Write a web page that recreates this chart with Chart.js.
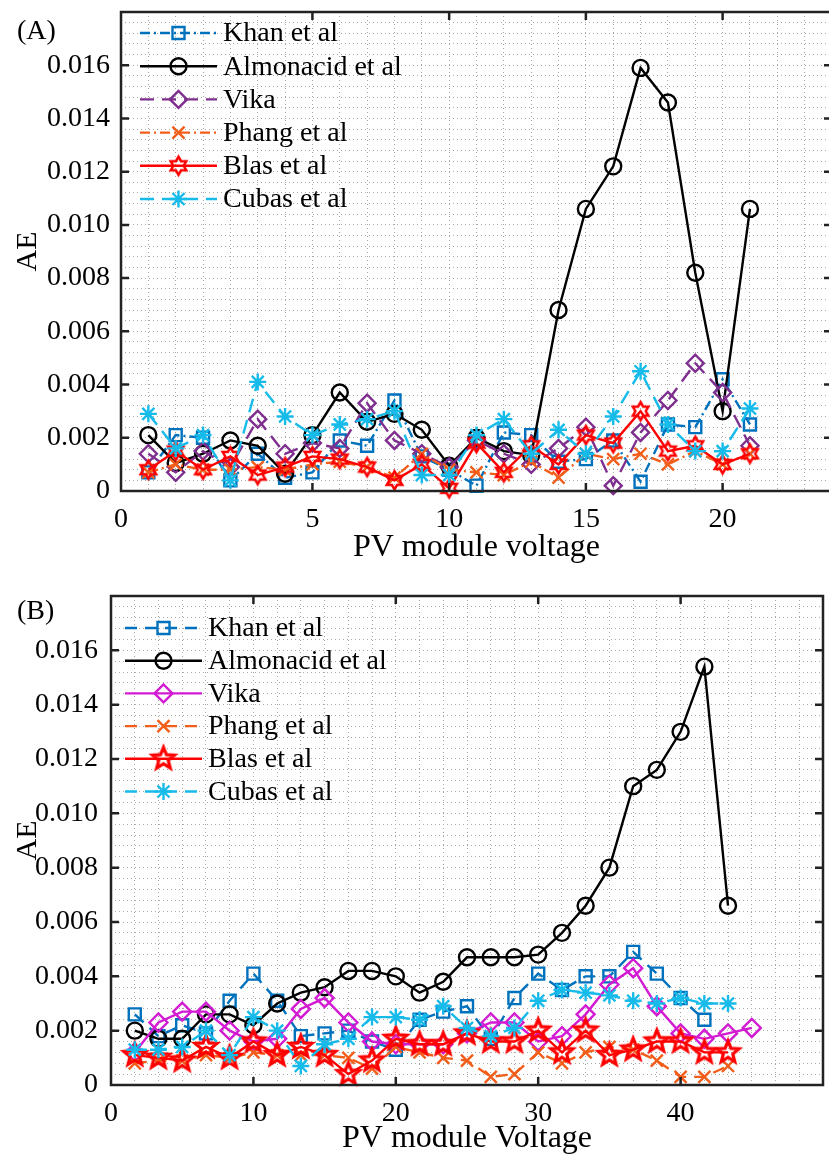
<!DOCTYPE html>
<html>
<head>
<meta charset="utf-8">
<title>AE vs PV module voltage</title>
<script src="https://cdn.jsdelivr.net/npm/chart.js@4.4.1/dist/chart.umd.min.js"></script>
<style>
  html, body { margin: 0; padding: 0; background: #fff; }
  #wrap { position: relative; width: 829px; height: 1163px; overflow: hidden; }
  .panel { position: absolute; left: 0; }
  #panelA { top: 0; width: 832px; height: 565px; }
  #panelB { top: 565px; width: 829px; height: 598px; }
</style>
</head>
<body>
<div id="wrap">
  <div class="panel" id="panelA"><canvas id="chartA"></canvas></div>
  <div class="panel" id="panelB"><canvas id="chartB"></canvas></div>
</div>
<script>
// ---- panel (A) ----
const voltageA = [-1, 0, 1, 2, 3, 4, 5, 6, 7, 8, 9, 10, 11, 12, 13, 14, 15, 16, 17, 18, 19, 20, 21];
const khanA = [0.0007, 0.0021, 0.0020, 0.0004, 0.0014, 0.0005, 0.0007, 0.0019, 0.0017, 0.0034, 0.0013, 0.0008, 0.0002, 0.0022, 0.0021, 0.0011, 0.0012, 0.0019, 0.00035, 0.0025, 0.0024, 0.0042, 0.0025];
const almonacidA = [0.0021, 0.00105, 0.0014, 0.0019, 0.0017, 0.00065, 0.0021, 0.0037, 0.0026, 0.0029, 0.0023, 0.00095, 0.0020, 0.0015, 0.00135, 0.0068, 0.0106, 0.0122, 0.0159, 0.0146, 0.0082, 0.0030, 0.0106];
const vikaA = [0.0014, 0.0007, 0.0015, 0.0009, 0.0027, 0.0014, 0.0018, 0.0016, 0.0033, 0.0019, 0.0014, 0.0009, 0.0019, 0.0014, 0.0010, 0.0016, 0.0024, 0.0002, 0.0022, 0.0034, 0.0048, 0.0037, 0.0017];
const phangA = [0.0007, 0.0010, 0.0008, 0.0008, 0.0009, 0.0008, 0.0010, 0.0011, 0.0009, 0.0005, 0.0014, 0.0008, 0.0007, 0.0006, 0.0011, 0.0005, 0.0014, 0.0012, 0.0014, 0.0010, 0.0015, 0.0010, 0.0014];
const blasA = [0.0008, 0.0015, 0.0008, 0.0013, 0.0006, 0.0009, 0.0013, 0.0012, 0.0009, 0.0004, 0.0010, 0.0001, 0.0018, 0.0007, 0.0017, 0.0010, 0.0021, 0.0018, 0.0030, 0.0015, 0.0017, 0.0010, 0.0014];
const cubasA = [0.0029, 0.0016, 0.0021, 0.0004, 0.0041, 0.0028, 0.0021, 0.0025, 0.0027, 0.0030, 0.0006, 0.0006, 0.0021, 0.0027, 0.0014, 0.0023, 0.0014, 0.0028, 0.0045, 0.0025, 0.0015, 0.0015, 0.0031];
const xTickValuesA = [-2, 5, 10, 15, 20];
const xTickLabelsA = ['0', '5', '10', '15', '20'];

// ---- panel (B) ----
const voltageB = [1.67, 3.33, 5, 6.67, 8.33, 10, 11.67, 13.33, 15, 16.67, 18.33, 20, 21.67, 23.33, 25, 26.67, 28.33, 30, 31.67, 33.33, 35, 36.67, 38.33, 40, 41.67, 43.33, 45];
const khanB = [0.0026, 0.0018, 0.0022, 0.0019, 0.0031, 0.0041, 0.0031, 0.0018, 0.0019, 0.0020, 0.0016, 0.0013, 0.0024, 0.0027, 0.0029, 0.0017, 0.0032, 0.0041, 0.0035, 0.0040, 0.0040, 0.0049, 0.0041, 0.0032, 0.0024];
const almonacidB = [0.0020, 0.0017, 0.0017, 0.0026, 0.0026, 0.0022, 0.0030, 0.0034, 0.0036, 0.0042, 0.0042, 0.0040, 0.0034, 0.0038, 0.0047, 0.0047, 0.0047, 0.0048, 0.0056, 0.0066, 0.0080, 0.0110, 0.0116, 0.0130, 0.0154, 0.0066];
const vikaB = [0.0012, 0.0023, 0.0027, 0.0027, 0.0020, 0.0016, 0.0017, 0.0028, 0.0032, 0.0023, 0.0016, 0.0015, 0.0015, 0.0015, 0.0019, 0.0023, 0.0023, 0.0016, 0.0018, 0.0026, 0.0037, 0.0043, 0.0029, 0.0019, 0.0017, 0.0019, 0.0021];
const phangB = [0.0008, 0.0009, 0.0009, 0.0011, 0.0010, 0.0012, 0.0011, 0.0011, 0.0011, 0.0010, 0.0006, 0.0014, 0.0012, 0.0010, 0.0009, 0.0003, 0.0004, 0.0012, 0.0008, 0.0012, 0.0014, 0.0013, 0.0009, 0.0003, 0.0003, 0.0007];
const blasB = [0.0011, 0.0010, 0.0009, 0.0014, 0.0010, 0.0016, 0.0011, 0.0014, 0.0011, 0.0004, 0.0009, 0.0017, 0.0015, 0.0015, 0.0019, 0.0016, 0.0016, 0.0020, 0.0012, 0.0020, 0.0011, 0.0013, 0.0016, 0.0016, 0.0012, 0.0012];
const cubasB = [0.0013, 0.0013, 0.0014, 0.0020, 0.0011, 0.0025, 0.0020, 0.0007, 0.0015, 0.0017, 0.0025, 0.0025, 0.0024, 0.0029, 0.0021, 0.0018, 0.0021, 0.0031, 0.0035, 0.0034, 0.0033, 0.0031, 0.0030, 0.0032, 0.0030, 0.0030];
const xTickValuesB = [0, 10, 20, 30, 40];
const xTickLabelsB = ['0', '10', '20', '30', '40'];

// ---- shared y axis ----
const yTickValues = [0, 0.002, 0.004, 0.006, 0.008, 0.010, 0.012, 0.014, 0.016];
const yTickLabels = ['0', '0.002', '0.004', '0.006', '0.008', '0.010', '0.012', '0.014', '0.016'];

(function() {
    const serif = "'Liberation Serif', 'Times New Roman', serif";
    const textColor = '#000000';
    const gridColor = '#a9a9a9';

    const colors = {
        khan: '#0072BD',
        almonacid: '#000000',
        vikaA: '#7E2F8E',
        vikaB: '#D21BD2',
        phang: '#F25E1A',
        blas: '#FF0000',
        cubas: '#17BBEA'
    };

    // star shaped markers (hexagram / pentagram) drawn once onto small canvases
    const makeStar = (spikes, outer, inner, color, lw) => {
        const size = Math.ceil(2 * outer + 2 * lw + 2);
        const c = document.createElement('canvas');
        c.width = size;
        c.height = size;
        const g = c.getContext('2d');
        g.strokeStyle = color;
        g.lineWidth = lw;
        g.lineJoin = 'miter';
        g.beginPath();
        for (let i = 0; i < spikes * 2; i++) {
            const r = i % 2 === 0 ? outer : inner;
            const a = -Math.PI / 2 + i * Math.PI / spikes;
            const px = size / 2 + r * Math.cos(a);
            const py = size / 2 + r * Math.sin(a);
            if (i === 0) g.moveTo(px, py); else g.lineTo(px, py);
        }
        g.closePath();
        g.stroke();
        return c;
    };

    const hexagram = makeStar(6, 9, 5.2, colors.blas, 2.5);
    const pentagram = makeStar(5, 11.5, 5, colors.blas, 3.2);

    const series = (label, xs, ys, color, dash, pointStyle, radius, order) => ({
        label: label,
        data: ys.map((y, i) => ({ x: xs[i], y: y })),
        borderColor: color,
        backgroundColor: 'transparent',
        borderWidth: 2.4,
        borderDash: dash,
        pointStyle: pointStyle,
        pointRadius: radius,
        pointBorderColor: color,
        pointBackgroundColor: 'transparent',
        pointBorderWidth: 2.4,
        tension: 0,
        fill: false,
        clip: false,
        order: order
    });

    const dashDot = [10, 4, 2, 4];
    const dashed = [14, 8];

    const labelFor = (v, values, labels) => {
        const i = values.findIndex(t => Math.abs(t - v) < 1e-7);
        return i < 0 ? '' : labels[i];
    };

    const range = (from, to, step) => {
        const out = [];
        for (let i = 0; from + i * step <= to + 1e-9; i++) out.push(from + i * step);
        return out;
    };

    const noPadding = (axis) => {
        axis.paddingLeft = 0;
        axis.paddingRight = 0;
        axis.paddingTop = 0;
        axis.paddingBottom = 0;
    };

    // box, inward ticks, panel letter and legend
    const framePlugin = (cfg) => ({
        id: 'frame',
        afterDatasetsDraw(chart) {
            const { ctx, chartArea: a, scales: { x, y } } = chart;
            ctx.save();
            ctx.setLineDash([]);
            ctx.strokeStyle = '#222';
            ctx.lineWidth = 2.5;
            ctx.strokeRect(a.left, a.top, a.right - a.left, a.bottom - a.top);

            ctx.beginPath();
            cfg.xMajor.forEach(v => {
                const px = x.getPixelForValue(v);
                ctx.moveTo(px, a.bottom); ctx.lineTo(px, a.bottom - 8);
                ctx.moveTo(px, a.top); ctx.lineTo(px, a.top + 8);
            });
            cfg.yMajor.forEach(v => {
                const py = y.getPixelForValue(v);
                ctx.moveTo(a.left, py); ctx.lineTo(a.left + 8, py);
                ctx.moveTo(a.right, py); ctx.lineTo(a.right - 8, py);
            });
            ctx.stroke();

            ctx.fillStyle = textColor;
            ctx.font = '28px ' + serif;
            ctx.textAlign = 'left';
            ctx.textBaseline = 'middle';
            ctx.fillText(cfg.letter, cfg.letterX, cfg.letterY);

            chart.data.datasets.forEach((ds, i) => {
                const ly = cfg.legendY + i * cfg.legendStep;
                ctx.strokeStyle = ds.borderColor;
                ctx.lineWidth = 2.4;
                ctx.setLineDash(ds.borderDash || []);
                ctx.beginPath();
                ctx.moveTo(cfg.legendX, ly);
                ctx.lineTo(cfg.legendX + cfg.legendLen, ly);
                ctx.stroke();
                ctx.setLineDash([]);
                ctx.fillStyle = 'rgba(0,0,0,0)';
                Chart.helpers.drawPoint(ctx, {
                    pointStyle: ds.pointStyle,
                    radius: ds.pointRadius,
                    rotation: 0,
                    borderWidth: 2.4
                }, cfg.legendX + cfg.legendLen / 2, ly);
                ctx.fillStyle = textColor;
                ctx.fillText(ds.label, cfg.legendX + cfg.legendLen + 6, ly + 1);
            });
            ctx.restore();
        }
    });

    const buildPanel = (canvasId, cfg) => new Chart(document.getElementById(canvasId).getContext('2d'), {
        type: 'line',
        data: { datasets: cfg.datasets },
        options: {
            responsive: true,
            maintainAspectRatio: false,
            animation: false,
            devicePixelRatio: 1,
            layout: { padding: cfg.padding, autoPadding: false },
            scales: {
                x: {
                    type: 'linear',
                    min: cfg.xMin,
                    max: cfg.xMax,
                    afterBuildTicks: (axis) => { axis.ticks = cfg.xGrid.map(v => ({ value: v })); },
                    afterFit: (axis) => { axis.height = cfg.xAxisHeight; noPadding(axis); },
                    ticks: {
                        autoSkip: false,
                        maxRotation: 0,
                        minRotation: 0,
                        padding: cfg.xTickPad,
                        color: textColor,
                        font: { family: serif, size: 28 },
                        callback: (v) => labelFor(v, cfg.xTickValues, cfg.xTickLabels)
                    },
                    grid: { color: gridColor, lineWidth: 1, drawTicks: false },
                    border: { display: false, dash: [1, 3] },
                    title: {
                        display: true,
                        text: cfg.xTitle,
                        color: textColor,
                        font: { family: serif, size: 32 },
                        padding: { top: 0, bottom: cfg.xTitlePad }
                    }
                },
                y: {
                    type: 'linear',
                    min: 0,
                    max: 0.018,
                    afterBuildTicks: (axis) => { axis.ticks = range(0, 0.018, 0.0004).map(v => ({ value: v })); },
                    afterFit: (axis) => { axis.width = cfg.yAxisWidth; noPadding(axis); },
                    ticks: {
                        autoSkip: false,
                        padding: cfg.yTickPad,
                        color: textColor,
                        font: { family: serif, size: 28 },
                        callback: (v) => labelFor(v, yTickValues, yTickLabels)
                    },
                    grid: { color: gridColor, lineWidth: 1, drawTicks: false },
                    border: { display: false, dash: [1, 3] },
                    title: {
                        display: true,
                        text: 'AE',
                        color: textColor,
                        font: { family: serif, size: 30 },
                        padding: { top: 10, bottom: 0 }
                    }
                }
            },
            plugins: {
                legend: { display: false },
                tooltip: { enabled: false }
            }
        },
        plugins: [framePlugin(cfg)]
    });

    const yMajor = yTickValues.slice(1);

    buildPanel('chartA', {
        datasets: [
            series('Khan et al', voltageA, khanA, colors.khan, dashDot, 'rect', 8.5, 6),
            series('Almonacid et al', voltageA, almonacidA, colors.almonacid, [], 'circle', 8, 5),
            series('Vika', voltageA, vikaA, colors.vikaA, dashed, 'rectRot', 8.5, 4),
            series('Phang et al', voltageA, phangA, colors.phang, dashDot, 'crossRot', 8.5, 3),
            series('Blas et al', voltageA, blasA, colors.blas, [], hexagram, 8, 2),
            series('Cubas et al', voltageA, cubasA, colors.cubas, dashed, 'star', 8.5, 1)
        ],
        padding: { top: 12, right: 0, left: 0, bottom: 0 },
        xMin: -2,
        xMax: 24,
        xGrid: range(-2, 24, 1),
        xTickValues: xTickValuesA,
        xTickLabels: xTickLabelsA,
        xAxisHeight: 74,
        xTickPad: 12,
        xTitle: 'PV module voltage',
        xTitlePad: -2,
        yAxisWidth: 121,
        yTickPad: 11,
        xMajor: xTickValuesA.slice(1),
        yMajor: yMajor,
        letter: '(A)',
        letterX: 17,
        letterY: 32,
        legendX: 140,
        legendY: 33,
        legendStep: 33.2,
        legendLen: 77
    });

    buildPanel('chartB', {
        datasets: [
            series('Khan et al', voltageB, khanB, colors.khan, [12, 8], 'rect', 8.5, 6),
            series('Almonacid et al', voltageB, almonacidB, colors.almonacid, [], 'circle', 8, 5),
            series('Vika', voltageB, vikaB, colors.vikaB, [], 'rectRot', 9, 4),
            series('Phang et al', voltageB, phangB, colors.phang, [12, 8], 'crossRot', 8.5, 3),
            series('Blas et al', voltageB, blasB, colors.blas, [], pentagram, 9, 2),
            series('Cubas et al', voltageB, cubasB, colors.cubas, [12, 8], 'star', 8.5, 1)
        ],
        padding: { top: 31, right: 6, left: 0, bottom: 0 },
        xMin: 0,
        xMax: 50,
        xGrid: range(0, 50, 5 / 3),
        xTickValues: xTickValuesB,
        xTickLabels: xTickLabelsB,
        xAxisHeight: 78,
        xTickPad: 12,
        xTitle: 'PV module Voltage',
        xTitlePad: 5,
        yAxisWidth: 111,
        yTickPad: 13,
        xMajor: xTickValuesB.slice(1),
        yMajor: yMajor,
        letter: '(B)',
        letterX: 17,
        letterY: 47,
        legendX: 125,
        legendY: 63,
        legendStep: 32.7,
        legendLen: 77
    });
})();
</script>
</body>
</html>
